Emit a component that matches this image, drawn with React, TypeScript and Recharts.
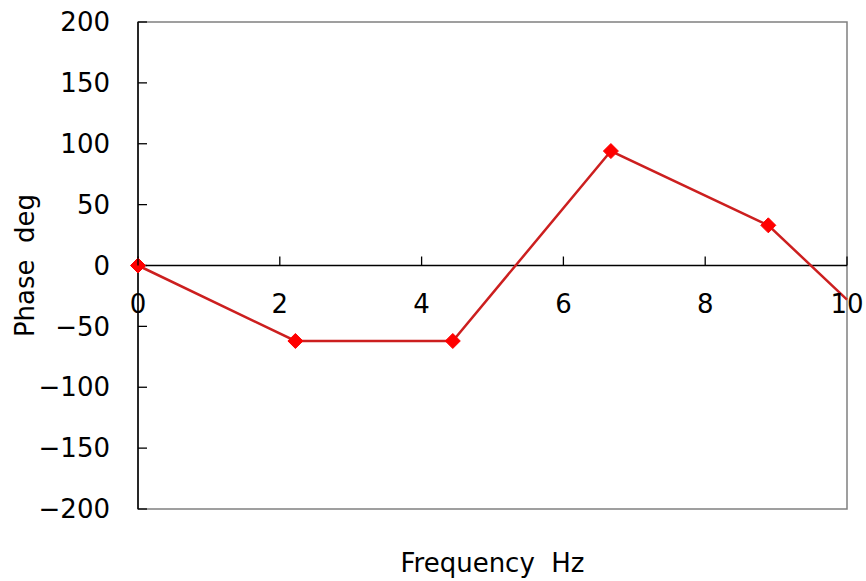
import { LineChart, Line, XAxis, YAxis, ReferenceLine, ReferenceArea, Label } from 'recharts';

// Phase response
const frequencyHz = [0, 2.22, 4.44, 6.67, 8.89, 10];
const phaseDeg = [0, -62, -62, 94, 33, -28];
const xTicks = [0, 2, 4, 6, 8, 10];
const yTicks = [-200, -150, -100, -50, 0, 50, 100, 150, 200];

const data = frequencyHz.map((f, i) => ({ freq: f, phase: phaseDeg[i] }));

const FONT = '"DejaVu Sans", sans-serif';
const TOP = 22;
const BOTTOM = 72;
const PLOT_H = 581 - TOP - BOTTOM;
const ZERO_Y = TOP + PLOT_H / 2;

// x ticks sit on the zero line, labels just below it
function ZeroTick(props: any) {
    const { x, payload } = props;
    return <g>
        <line x1={x} x2={x} y1={ZERO_Y - 9} y2={ZERO_Y} stroke="#000" strokeWidth={1.3} />
        <text x={x} y={ZERO_Y + 47} textAnchor="middle" fontSize={26} fontFamily={FONT} fill="#000">{payload.value}</text>
    </g>
}

function Diamond(props: any) {
    const { cx, cy, index } = props;
    // the last point runs off the right edge with no marker
    if (index === frequencyHz.length - 1 || cx == null) return <g key={'d' + index} />;
    const r = 7.5;
    return <polygon key={'d' + index} points={`${cx},${cy - r} ${cx + r},${cy} ${cx},${cy + r} ${cx - r},${cy}`} fill="#FF0000" stroke="#FF0000" />
}

export default function App() {
    return <div style={{ position: 'absolute', left: 0, top: 0, background: '#fff' }}>
        <LineChart width={866} height={581} data={data} margin={{ top: TOP, right: 19, bottom: 0, left: 0 }}>
            <ReferenceArea x1={0} x2={10} y1={-200} y2={200} fill="none" stroke="#808080" strokeWidth={1.5} />
            <XAxis dataKey="freq" type="number" domain={[0, 10]} ticks={xTicks} height={BOTTOM}
                axisLine={false} tickLine={false} tick={<ZeroTick />} interval={0}>
                <Label content={(p: any) => {
                    const vb = p.viewBox;
                    return <text x={vb.x + vb.width / 2} y={563} textAnchor="middle" dominantBaseline="central"
                        fontSize={26} fontFamily={FONT} fill="#000">{'Frequency\u00A0\u00A0Hz'}</text>
                }} />
            </XAxis>
            <YAxis type="number" domain={[-200, 200]} ticks={yTicks} width={138} interval={0}
                axisLine={{ stroke: '#000', strokeWidth: 1.5 }} tickSize={-9} tickMargin={37}
                tickLine={{ stroke: '#000', strokeWidth: 1.3 }}
                tickFormatter={(v: number) => v < 0 ? '\u2212' + Math.abs(v) : String(v)}
                tick={{ fontSize: 26, fontFamily: FONT, fill: '#000' }}>
                <Label content={(p: any) => {
                    const vb = p.viewBox;
                    const cy = vb.y + vb.height / 2;
                    return <text x={25} y={cy} transform={`rotate(-90 25 ${cy})`} textAnchor="middle"
                        dominantBaseline="central" fontSize={26} fontFamily={FONT} fill="#000">{'Phase\u00A0\u00A0deg'}</text>
                }} />
            </YAxis>
            <ReferenceLine y={0} stroke="#000" strokeWidth={1.3} />
            <Line dataKey="phase" stroke="#CC1F1F" strokeWidth={2.5} dot={Diamond} activeDot={false}
                isAnimationActive={false} />
        </LineChart>
    </div>
}
